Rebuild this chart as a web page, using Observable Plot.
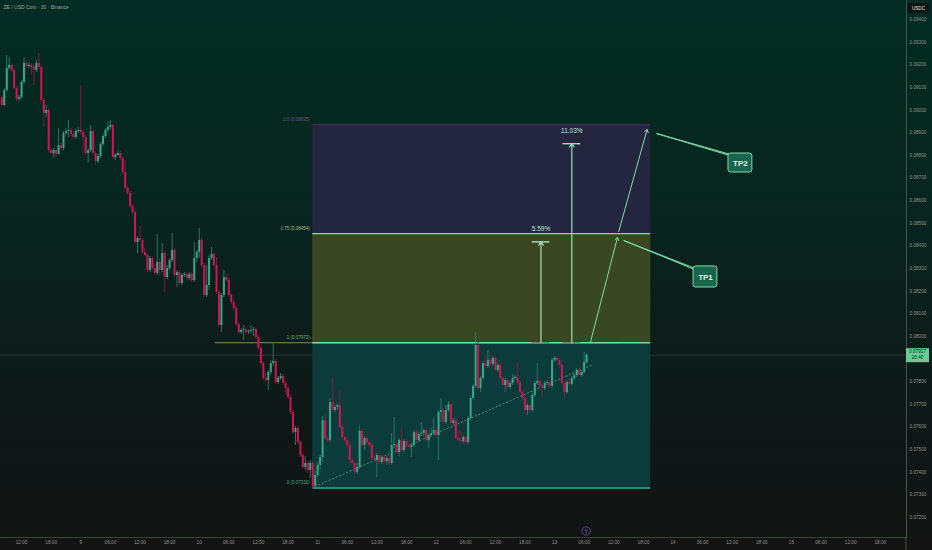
<!DOCTYPE html>
<html><head><meta charset="utf-8">
<script src="https://cdn.jsdelivr.net/npm/d3@7"></script>
<script src="https://cdn.jsdelivr.net/npm/@observablehq/plot@0.6"></script>
<style>
html,body{margin:0;padding:0;background:#131313;}
#wrap{position:relative;width:932px;height:550px;overflow:hidden;
background:linear-gradient(to bottom,#022c24 0%,#04291f 18%,#082520 38%,#0c1d1a 60%,#0f1716 80%,#111413 97.6%,#131313 97.6%,#131313 100%);}
#wrap svg{display:block;}
</style></head><body><div id="wrap"></div>
<script>
// ZE / USD Coin · 30 min · Binance — candles from day 8 08:00 UTC, one every 30 minutes
const title = "ZE / USD Coin · 30 · Binance";
const firstOpen = 0.09055;
const close = [
.09020,.09086,.09184,.09197,.09175,.09095,.09047,.09055,.09122,.09206,
.09192,.09197,.09188,.09175,.09206,.09188,.09042,.08985,.08998,.08821,
.08808,.08821,.08804,.08843,.08830,.08896,.08905,.08910,.08892,.08879,
.08905,.08910,.08901,.08879,.08808,.08821,.08905,.08808,.08773,.08795,
.08848,.08883,.08910,.08923,.08932,.08790,.08799,.08808,.08786,.08724,
.08654,.08632,.08574,.08547,.08415,.08432,.08424,.08371,.08357,.08291,
.08344,.08300,.08278,.08327,.08291,.08366,.08260,.08300,.08335,.08380,
.08269,.08282,.08234,.08269,.08274,.08256,.08274,.08247,.08344,.08371,
.08424,.08313,.08181,.08225,.08344,.08362,.08313,.08194,.08048,.08181,
.08260,.08247,.08181,.08150,.08123,.08053,.08017,.08026,.08030,.08017,
.08022,.08026,.08030,.07995,.07947,.07880,.07814,.07805,.07841,.07880,
.07889,.07796,.07814,.07823,.07792,.07770,.07730,.07664,.07575,.07593,
.07531,.07474,.07421,.07439,.07408,.07439,.07337,.07385,.07430,.07465,
.07628,.07549,.07540,.07708,.07673,.07686,.07695,.07597,.07553,.07540,
.07518,.07452,.07439,.07399,.07421,.07580,.07518,.07549,.07531,.07518,
.07461,.07452,.07474,.07443,.07465,.07447,.07461,.07439,.07518,.07522,
.07487,.07540,.07496,.07536,.07514,.07509,.07518,.07575,.07540,.07567,
.07571,.07584,.07540,.07562,.07571,.07584,.07562,.07664,.07673,.07620,
.07673,.07699,.07615,.07628,.07549,.07540,.07536,.07553,.07531,.07637,
.07726,.07779,.07960,.07770,.07814,.07880,.07867,.07894,.07876,.07903,
.07850,.07872,.07814,.07783,.07805,.07774,.07792,.07814,.07819,.07796,
.07752,.07726,.07673,.07695,.07673,.07739,.07792,.07801,.07779,.07770,
.07792,.07796,.07779,.07894,.07903,.07894,.07872,.07792,.07752,.07796,
.07788,.07814,.07827,.07850,.07827,.07841,.07885,.07917];
const high = [
.09064,.09095,.09241,.09232,.09206,.09184,.09104,.09064,.09131,.09228,
.09214,.09210,.09206,.09197,.09219,.09250,.09197,.09051,.09020,.09007,
.08830,.08830,.08830,.08918,.08852,.08905,.08918,.08954,.08918,.08901,
.08914,.08923,.09108,.08910,.08888,.08830,.08932,.08914,.08817,.08804,
.08857,.08892,.08918,.08949,.08954,.08940,.08808,.08821,.08817,.08795,
.08777,.08662,.08641,.08583,.08556,.08441,.08485,.08432,.08388,.08366,
.08353,.08353,.08318,.08450,.08344,.08410,.08375,.08313,.08344,.08455,
.08388,.08291,.08291,.08278,.08282,.08282,.08282,.08282,.08415,.08380,
.08477,.08432,.08322,.08313,.08357,.08393,.08371,.08349,.08203,.08190,
.08291,.08278,.08256,.08190,.08159,.08132,.08061,.08035,.08048,.08039,
.08030,.08048,.08039,.08035,.08004,.07955,.07889,.07836,.07850,.07894,
.07969,.07898,.07823,.07836,.07832,.07801,.07779,.07739,.07673,.07602,
.07602,.07540,.07483,.07469,.07447,.07452,.07447,.07408,.07443,.07474,
.07646,.07659,.07558,.07726,.07819,.07695,.07704,.07761,.07606,.07562,
.07553,.07527,.07461,.07447,.07439,.07606,.07589,.07558,.07558,.07540,
.07527,.07469,.07483,.07483,.07474,.07474,.07469,.07469,.07571,.07642,
.07531,.07549,.07593,.07544,.07553,.07527,.07527,.07584,.07584,.07575,
.07620,.07593,.07593,.07571,.07593,.07637,.07593,.07673,.07726,.07681,
.07695,.07712,.07708,.07637,.07637,.07584,.07584,.07562,.07562,.07646,
.07735,.07788,.08017,.07982,.07823,.07889,.07916,.07938,.07929,.07911,
.07911,.07880,.07880,.07823,.07814,.07814,.07801,.07832,.07827,.07885,
.07805,.07761,.07735,.07704,.07704,.07748,.07801,.07880,.07810,.07788,
.07801,.07805,.07805,.07903,.07911,.07911,.07903,.07880,.07801,.07805,
.07814,.07823,.07836,.07858,.07858,.07850,.07929,.07925];
const low = [
.09011,.09016,.09078,.09175,.09166,.09086,.09038,.09038,.09047,.09113,
.09184,.09184,.09153,.09108,.09166,.09179,.09033,.08923,.08967,.08808,
.08799,.08786,.08790,.08799,.08821,.08821,.08888,.08879,.08883,.08870,
.08870,.08896,.08892,.08808,.08799,.08764,.08813,.08799,.08755,.08764,
.08786,.08839,.08874,.08901,.08910,.08782,.08777,.08795,.08777,.08715,
.08645,.08623,.08565,.08539,.08406,.08366,.08415,.08362,.08349,.08282,
.08282,.08291,.08269,.08269,.08269,.08282,.08194,.08251,.08291,.08327,
.08260,.08216,.08225,.08225,.08260,.08247,.08247,.08238,.08238,.08327,
.08344,.08300,.08172,.08172,.08203,.08335,.08304,.08185,.08039,.08017,
.08172,.08238,.08172,.08141,.08114,.08044,.08008,.08008,.07982,.08008,
.08008,.08013,.07999,.07986,.07938,.07872,.07805,.07796,.07761,.07827,
.07867,.07788,.07788,.07805,.07783,.07739,.07721,.07655,.07567,.07518,
.07522,.07465,.07412,.07408,.07394,.07372,.07332,.07330,.07377,.07408,
.07443,.07540,.07531,.07531,.07664,.07664,.07673,.07589,.07544,.07527,
.07509,.07443,.07430,.07390,.07390,.07412,.07509,.07496,.07522,.07509,
.07452,.07443,.07377,.07434,.07434,.07439,.07430,.07430,.07430,.07505,
.07478,.07469,.07487,.07487,.07505,.07500,.07465,.07509,.07531,.07531,
.07558,.07558,.07531,.07505,.07553,.07562,.07553,.07452,.07620,.07611,
.07611,.07664,.07606,.07606,.07540,.07531,.07527,.07527,.07522,.07522,
.07628,.07717,.07770,.07761,.07752,.07805,.07858,.07858,.07867,.07867,
.07841,.07841,.07805,.07774,.07752,.07765,.07765,.07783,.07805,.07788,
.07739,.07717,.07655,.07650,.07664,.07664,.07730,.07783,.07770,.07730,
.07761,.07783,.07770,.07770,.07885,.07885,.07863,.07783,.07730,.07743,
.07779,.07779,.07805,.07819,.07819,.07819,.07832,.07876];

// Fibonacci extension drawn on the chart
const fibRatios = [0, 1, 1.75, 2.5];
const fibPrices = [0.07330, 0.07972, 0.08454, 0.08935];
// Measured targets from the 1.0 level
const targetPcts = [5.59, 11.03];
const tpLabels = ["TP1", "TP2"];
// axis ticks (0.07900 sits under the live price tag, so it is not shown)
const yTickValues = [0.072,0.073,0.074,0.075,0.076,0.077,0.078,0.080,0.081,0.082,0.083,0.084,0.085,0.086,0.087,0.088,0.089,0.090,0.091,0.092,0.093,0.094];

const T = (d, h, m = 0) => new Date(Date.UTC(2025, 6, d, h, m));
const t0 = T(8, 8);
const step = 30 * 60 * 1000;
const candles = close.map((c, i) => ({
  t: new Date(+t0 + i * step), o: i ? close[i - 1] : firstOpen, c, h: high[i], l: low[i]
}));
const last = candles[candles.length - 1];

const green = "#38a888", red = "#cf1652", greenW = "#2b7e68", redW = "#8a1a44";
const fibStart = T(10, 23, 0), fibEnd = T(13, 19, 30);
const fibFills = ["#0b3b3a", "#394823", "#24253f"];
const fibStroke = ["#2fae8e", "#6fdaa4", "#8ad8a2", "#4f2d5f"];
const fibLabelFill = ["#3aa88b", "#6fae8c", "#a3be8f", "#70508a"];
const fib = fibRatios.map((r, i) => ({r, p: fibPrices[i], stroke: fibStroke[i], lf: fibLabelFill[i]}));
const bands = fibPrices.slice(0, -1).map((p, i) => ({lo: p, hi: fibPrices[i + 1], fill: fibFills[i]}));

const base = fibPrices[1];
const measures = [
  {t: T(12, 21, 15), pct: targetPcts[0], stroke: "#a9dcc2"},
  {t: T(13, 3, 30), pct: targetPcts[1], stroke: "#8fe3b6"}
].map(d => ({...d, target: base * (1 + d.pct / 100)}));
const hOff = (t, h) => new Date(+t + h * 3600e3);

const diag = [
  {x1: T(13, 7, 15), y1: base, x2: T(13, 12, 45), y2: 0.08437},
  {x1: T(13, 13, 0), y1: 0.08463, x2: T(13, 18, 45), y2: 0.08914}
];
const callouts = [
  {x1: T(13, 14, 0), y1: 0.08424, x2: T(14, 4, 15), y2: 0.08302},
  {x1: T(13, 14, 0), y1: 0.08424, x2: T(14, 5, 30), y2: 0.08286},
  {x1: T(13, 20, 40), y1: 0.08896, x2: T(14, 11, 20), y2: 0.08806},
  {x1: T(13, 20, 40), y1: 0.08896, x2: T(14, 12, 40), y2: 0.08792}
];
const tpBoxes = [
  {label: tpLabels[0], x1: T(14, 4, 10), x2: T(14, 9, 0), y1: 0.08216, y2: 0.08309},
  {label: tpLabels[1], x1: T(14, 11, 15), x2: T(14, 16, 5), y1: 0.08724, y2: 0.08808}
].map(d => ({...d, xm: new Date((+d.x1 + +d.x2) / 2), ym: (d.y1 + d.y2) / 2}));
const trend = [{t: T(10, 23, 30), p: 0.07337}, {t: T(13, 7, 45), p: 0.07876}];

const xTicks = d3.utcHour.every(6).range(T(8, 12), T(15, 19));
const fmtX = d => d.getUTCHours() === 0 ? String(d.getUTCDate()) : d3.utcFormat("%H:%M")(d);
const fmtP = d3.format(".5f");
const font = "Liberation Sans, DejaVu Sans, sans-serif";

const chart = Plot.plot({
  width: 932, height: 550,
  marginLeft: 0, marginRight: 26, marginTop: 0, marginBottom: 13,
  style: {background: "transparent", fontFamily: font, overflow: "visible"},
  x: {type: "utc", domain: [T(8, 7, 44), T(15, 23, 19)], range: [0, 906]},
  y: {domain: [0.072, 0.094], range: [517, 19]},
  color: {type: "identity"},
  marks: [
    Plot.frame({anchor: "bottom", stroke: "#3a4233"}),
    Plot.frame({anchor: "right", stroke: "#4a5541"}),
    Plot.axisY({anchor: "right", ticks: yTickValues, tickSize: 0, tickPadding: 3, tickFormat: fmtP, fontSize: 4.7, color: "#8c968e", label: null}),
    Plot.axisX({ticks: xTicks, tickSize: 0, tickPadding: 3.5, tickFormat: fmtX, fontSize: 4.7, color: "#8c968e", label: null}),
    Plot.ruleY([last.c], {stroke: "#29352f", strokeWidth: 1}),
    // fib box
    Plot.rect(bands, {x1: () => fibStart, x2: () => fibEnd, y1: "lo", y2: "hi", fill: "fill"}),
    Plot.ruleY([base], {x1: () => T(10, 3, 15), x2: () => T(13, 12, 45), stroke: "#7e8d5e", strokeWidth: 1.2}),
    Plot.ruleY(fib, {y: "p", x1: () => fibStart, x2: () => fibEnd, stroke: "stroke", strokeWidth: d => d.r === 2.5 ? 1 : 1.4}),
    Plot.text(fib, {x: () => fibStart, y: "p", text: d => `${d.r} (${fmtP(d.p)})`, textAnchor: "end", dx: -3, dy: -5.5, fill: "lf", fontSize: 4.5}),
    // trend line
    Plot.line(trend, {x: "t", y: "p", stroke: "#5f8a76", strokeWidth: 1, strokeDasharray: "1.2,2.6"}),
    // candles
    Plot.ruleX(candles, {x: "t", y1: "l", y2: "h", stroke: d => d.c >= d.o ? greenW : redW, strokeWidth: 0.9}),
    Plot.ruleX(candles, {x: "t", y1: "o", y2: "c", stroke: d => d.c >= d.o ? green : red, strokeWidth: 2}),
    // measurement arrows
    Plot.ruleY(measures, {y: () => base, x1: d => hOff(d.t, -1.8), x2: d => hOff(d.t, 1.8), stroke: "#6c7d76", strokeWidth: 1.2}),
    Plot.arrow(measures, {x1: "t", x2: "t", y1: () => base, y2: "target", stroke: "stroke", strokeWidth: 1.2, headLength: 5, headAngle: 70}),
    Plot.ruleY(measures, {y: "target", x1: d => hOff(d.t, -1.8), x2: d => hOff(d.t, 1.8), stroke: "stroke", strokeWidth: 1.4}),
    Plot.text(measures, {x: "t", y: "target", text: d => d.pct.toFixed(2) + "%", dy: -13, fill: "#b9ecd0", fontSize: 6.5}),
    Plot.arrow(diag, {x1: "x1", y1: "y1", x2: "x2", y2: "y2", stroke: "#7fdcaa", strokeWidth: 1, headLength: 5, headAngle: 70}),
    // callouts
    Plot.link(callouts, {x1: "x1", y1: "y1", x2: "x2", y2: "y2", stroke: "#72d6a2", strokeWidth: 1.1}),
    Plot.rect(tpBoxes, {x1: "x1", x2: "x2", y1: "y1", y2: "y2", fill: "#17664d", stroke: "#86dcae", strokeWidth: 1, rx: 2.5}),
    Plot.text(tpBoxes, {x: "xm", y: "ym", text: "label", fill: "#e0f6ea", fontWeight: "bold", fontSize: 8}),
    // title
    Plot.text([title], {frameAnchor: "top-left", dx: 3, dy: 4.5, fill: "#a5a694", fontSize: 5})
  ]
});
document.getElementById("wrap").append(chart);

// price tag, unit label and replay icon on the axes
const svg = d3.select(chart);
const sy = chart.scale("y").apply, sx = chart.scale("x").apply;
const py = sy(last.c);
svg.append("line").attr("x1", 906).attr("x2", 906).attr("y1", 537).attr("y2", 550).attr("stroke", "#4a5541");
const tag = svg.append("g");
tag.append("rect").attr("x", 906).attr("y", py - 6.5).attr("width", 23).attr("height", 14).attr("fill", "#62cf98");
tag.append("text").attr("x", 917.5).attr("y", py - 1.5).attr("text-anchor", "middle").attr("font-size", 4.6).attr("fill", "#0c2a1f").attr("font-family", font).text(fmtP(last.c));
tag.append("text").attr("x", 917.5).attr("y", py + 4.5).attr("text-anchor", "middle").attr("font-size", 4.6).attr("fill", "#0c2a1f").attr("font-family", font).text("20:40");
svg.append("rect").attr("x", 907.5).attr("y", 3).attr("width", 22).attr("height", 10).attr("rx", 1.5).attr("fill", "#0f1513");
svg.append("text").attr("x", 918.5).attr("y", 9.7).attr("text-anchor", "middle").attr("font-size", 4.6).attr("fill", "#e6e6e6").attr("font-family", font).text("USDC");
const ix = sx(last.t);
svg.append("circle").attr("cx", ix).attr("cy", 531).attr("r", 4.2).attr("fill", "#161320").attr("stroke", "#6c4f95").attr("stroke-width", 0.8);
svg.append("text").attr("x", ix).attr("y", 533).attr("text-anchor", "middle").attr("font-size", 5.5).attr("fill", "#8a6cb8").attr("font-family", "DejaVu Sans").text("ϟ");
</script>
</body></html>
